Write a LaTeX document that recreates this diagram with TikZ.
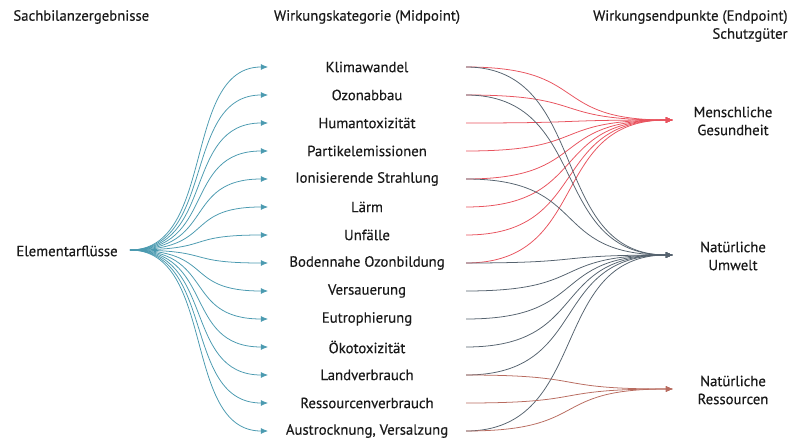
\documentclass[tikz,border=0pt]{standalone}
\usepackage{fontspec}
\setmainfont{PT Sans}[FakeBold=0]
\usetikzlibrary{arrows.meta}
\definecolor{cteal}{HTML}{4B9AB0}
\definecolor{cred}{HTML}{E8535E}
\definecolor{cslate}{HTML}{56636F}
\definecolor{cbrown}{HTML}{B86B5F}
\definecolor{ctext}{HTML}{1A1A1A}
\tikzset{
  every picture/.style={font=\fontsize{10.5}{12.8}\selectfont, line width=0.55pt},
  label/.style={text=ctext, align=center, inner sep=0pt, font=\fontsize{10.5}{12.8}\selectfont\addfontfeature{FakeBold=0.35}},
  flow/.style={-{Latex[length=1.8mm, width=1.5mm]}, draw=#1, line width=0.55pt},
  flow/.default=cteal,
}

\begin{document}
\begin{tikzpicture}[x=0.025cm, y=-0.025cm]
  \useasboundingbox (0,0) rectangle (794,439);
  % column heads
  \node[label, anchor=west] (hsach) at (13,17) {Sachbilanzergebnisse};
  \node[label] (hmid) at (367,17) {Wirkungskategorie (Midpoint)};
  \node[label, anchor=east, align=right] (hend) at (788,26) {Wirkungsendpunkte (Endpoint)\\Schutzgüter};
  % inventory flows
  \node[label, anchor=east] (src) at (118,251) {Elementarflüsse};
  \coordinate (srcout) at (130,250);
  % midpoint categories
  \foreach \t [count=\i] in {Klimawandel, Ozonabbau, Humantoxizität, Partikelemissionen,
                             Ionisierende Strahlung, Lärm, Unfälle, Bodennahe Ozonbildung,
                             Versauerung, Eutrophierung, Ökotoxizität, Landverbrauch,
                             Ressourcenverbrauch, {Austrocknung, Versalzung}} {
    \node[label] (m\i) at (367, 39+28*\i) {\t};
    \coordinate (in\i) at (268, 39+28*\i);
    \coordinate (out\i) at (466, 39+28*\i);
    \draw[flow] (srcout) .. controls +(86,0) and +(-86,0) .. (in\i);
  }
  % endpoints
  \node[label] (gesund) at (733,121) {Menschliche\\Gesundheit};
  \node[label] (umwelt) at (733,256) {Natürliche\\Umwelt};
  \node[label] (ressou) at (733,390) {Natürliche\\Ressourcen};
  \coordinate (gesundin) at (673,120);
  \coordinate (umweltin) at (673,255);
  \coordinate (ressouin) at (673,389);
  \foreach \i in {1,...,8} {
    \draw[flow=cred] (out\i) .. controls +(125,0) and +(-125,0) .. (gesundin);
  }
  \foreach \i in {1,2,5,8,9,10,11,12,14} {
    \draw[flow=cslate] (out\i) .. controls +(125,0) and +(-125,0) .. (umweltin);
  }
  \foreach \i in {12,13,14} {
    \draw[flow=cbrown] (out\i) .. controls +(125,0) and +(-125,0) .. (ressouin);
  }
\end{tikzpicture}
\end{document}
